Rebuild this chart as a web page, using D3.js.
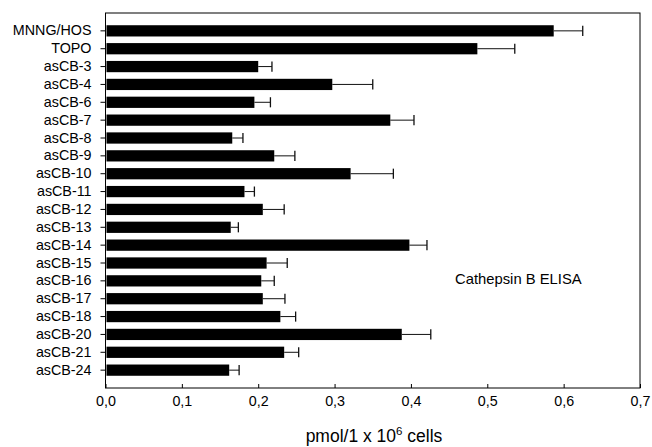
<!DOCTYPE html>
<html><head><meta charset="utf-8">
<script src="https://cdn.jsdelivr.net/npm/d3@7"></script>
<style>
html,body{margin:0;padding:0;background:#fff;}
svg{display:block;font-family:"Liberation Sans",Arial,Helvetica,sans-serif;}
</style></head>
<body>
<svg id="chart" width="652" height="447"></svg>
<script>
const categories = ["MNNG/HOS","TOPO","asCB-3","asCB-4","asCB-6","asCB-7","asCB-8","asCB-9","asCB-10","asCB-11","asCB-12","asCB-13","asCB-14","asCB-15","asCB-16","asCB-17","asCB-18","asCB-20","asCB-21","asCB-24"];
const values = [0.587,0.487,0.200,0.297,0.195,0.373,0.166,0.221,0.321,0.182,0.206,0.164,0.398,0.211,0.204,0.206,0.229,0.388,0.234,0.162];
const errorUpper = [0.625,0.536,0.218,0.350,0.216,0.404,0.180,0.248,0.377,0.195,0.234,0.174,0.421,0.238,0.221,0.235,0.249,0.426,0.253,0.175];
const xTicks = [0,0.1,0.2,0.3,0.4,0.5,0.6,0.7];
const xTickLabels = ["0,0","0,1","0,2","0,3","0,4","0,5","0,6","0,7"];
const xTitle = "pmol/1 x 10";
const xTitleSup = "6";
const xTitleEnd = " cells";
const annotation = "Cathepsin B ELISA";

const svg = d3.select("#chart");
const L = 105.5, R = 640, T = 13, B = 388;
const x = d3.scaleLinear().domain([0,0.7]).range([L,R]);
const step = (B - T) / (categories.length + 1);
const y = d3.scaleBand().domain(categories)
  .range([T + step/2, B - step/2]).paddingInner(0.37).paddingOuter(0.185);

// frame
svg.append("rect").attr("x",L).attr("y",T).attr("width",R-L).attr("height",B-T)
  .attr("fill","none").attr("stroke","#000").attr("stroke-width",1);

// bars
svg.append("g").selectAll("rect").data(categories).join("rect")
  .attr("x", x(0)+1)
  .attr("y", d => y(d))
  .attr("width", (d,i) => x(values[i]) - x(0) - 1)
  .attr("height", y.bandwidth())
  .attr("fill","#000");

// error bars
const capH = y.bandwidth()*0.9;
const eg = svg.append("g").attr("stroke","#111").attr("stroke-width",1);
categories.forEach((c,i) => {
  const cy = y(c) + y.bandwidth()/2;
  eg.append("line").attr("x1",x(values[i])).attr("x2",x(errorUpper[i]))
    .attr("y1",cy).attr("y2",cy);
  eg.append("line").attr("x1",x(errorUpper[i])).attr("x2",x(errorUpper[i]))
    .attr("y1",cy-capH/2).attr("y2",cy+capH/2).attr("stroke-width",1.3);
});

// y axis
const yAxis = d3.axisLeft(y).tickSize(5).tickPadding(9);
const gy = svg.append("g").attr("transform",`translate(${L},0)`).call(yAxis);
gy.select(".domain").remove();
gy.selectAll("text").attr("font-size",14.3).attr("fill","#000")
  .attr("font-family",'"Liberation Sans",Arial,sans-serif');

// x axis
const xAxis = d3.axisBottom(x).tickValues(xTicks).tickFormat((d,i)=>xTickLabels[i])
  .tickSize(-4).tickPadding(8);
const gx = svg.append("g").attr("transform",`translate(0,${B})`).call(xAxis);
gx.select(".domain").remove();
gx.selectAll("text").attr("font-size",14.3).attr("fill","#000")
  .attr("font-family",'"Liberation Sans",Arial,sans-serif');

// x title
const t = svg.append("text").attr("x",374).attr("y",441.5)
  .attr("text-anchor","middle").attr("font-size",17.5).attr("fill","#000");
t.append("tspan").text(xTitle);
t.append("tspan").text(xTitleSup).attr("font-size",11.5).attr("dy",-7);
t.append("tspan").text(xTitleEnd).attr("dy",7);

// annotation
svg.append("text").attr("x",x(0.4577)).attr("y",284).attr("font-size",14.8)
  .attr("fill","#000").text(annotation);
</script>
</body></html>
